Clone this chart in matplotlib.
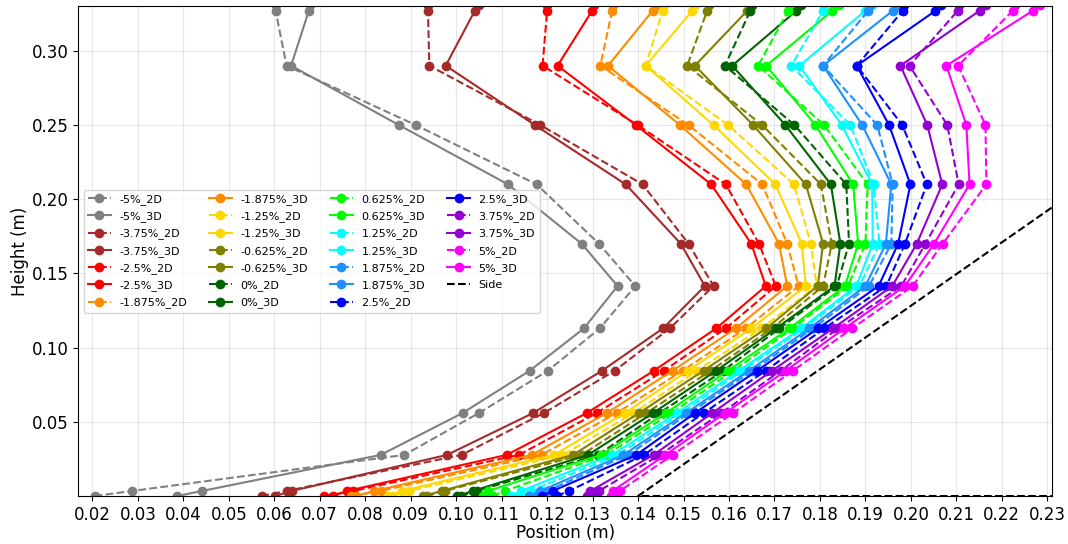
import numpy as np
import matplotlib
matplotlib.use("Agg")
import matplotlib.pyplot as plt

# ────────────────────────────────────────────────────────────────
# Profile data — position (m) at each height (m), 2D vs 3D runs
# ────────────────────────────────────────────────────────────────
heights = [0.0, 0.0034, 0.0277, 0.0559, 0.0845, 0.113, 0.1415,
           0.17, 0.21, 0.25, 0.29, 0.327, 0.331]

m5_2d    = [0.0205, 0.0287, 0.0886, 0.1050, 0.1202, 0.1316, 0.1394, 0.1314, 0.1177, 0.0911, 0.0627, 0.0603, 0.0603]
m5_3d    = [0.0387, 0.0441, 0.0834, 0.1014, 0.1162, 0.1281, 0.1355, 0.1276, 0.1114, 0.0874, 0.0637, 0.0676, 0.0678]
m375_2d  = [0.0572, 0.0627, 0.1012, 0.1193, 0.1349, 0.1470, 0.1566, 0.1511, 0.1410, 0.1185, 0.0941, 0.0938, 0.0938]
m375_3d  = [0.0602, 0.0638, 0.0980, 0.1169, 0.1321, 0.1455, 0.1547, 0.1494, 0.1373, 0.1173, 0.0977, 0.1041, 0.1050]
m25_2d   = [0.0710, 0.0774, 0.1138, 0.1309, 0.1457, 0.1593, 0.1703, 0.1666, 0.1593, 0.1399, 0.1190, 0.1200, 0.1200]
m25_3d   = [0.0730, 0.0760, 0.1111, 0.1287, 0.1435, 0.1572, 0.1681, 0.1649, 0.1561, 0.1395, 0.1223, 0.1299, 0.1304]
m1875_2d = [0.0768, 0.0834, 0.1188, 0.1353, 0.1498, 0.1637, 0.1753, 0.1728, 0.1673, 0.1511, 0.1317, 0.1343, 0.1345]
m1875_3d = [0.0780, 0.0820, 0.1166, 0.1331, 0.1476, 0.1615, 0.1728, 0.1710, 0.1638, 0.1492, 0.1334, 0.1432, 0.1442]
m125_2d  = [0.0860, 0.0897, 0.1235, 0.1390, 0.1530, 0.1671, 0.1793, 0.1780, 0.1743, 0.1598, 0.1417, 0.1454, 0.1456]
m125_3d  = [0.0851, 0.0880, 0.1215, 0.1371, 0.1510, 0.1649, 0.1769, 0.1760, 0.1702, 0.1566, 0.1417, 0.1519, 0.1525]
m0625_2d = [0.0935, 0.0975, 0.1276, 0.1418, 0.1560, 0.1695, 0.1807, 0.1826, 0.1802, 0.1673, 0.1508, 0.1552, 0.1555]
m0625_3d = [0.0928, 0.0968, 0.1257, 0.1402, 0.1544, 0.1682, 0.1795, 0.1807, 0.1769, 0.1653, 0.1525, 0.1640, 0.1650]
z0_2d    = [0.1010, 0.1045, 0.1312, 0.1447, 0.1588, 0.1711, 0.1837, 0.1864, 0.1858, 0.1744, 0.1591, 0.1647, 0.1650]
z0_3d    = [0.1001, 0.1037, 0.1290, 0.1433, 0.1572, 0.1704, 0.1832, 0.1845, 0.1824, 0.1724, 0.1607, 0.1748, 0.1759]
p0625_2d = [0.1080, 0.1107, 0.1330, 0.1473, 0.1610, 0.1740, 0.1862, 0.1900, 0.1905, 0.1809, 0.1664, 0.1730, 0.1733]
p0625_3d = [0.1060, 0.1070, 0.1318, 0.1461, 0.1598, 0.1733, 0.1855, 0.1884, 0.1873, 0.1790, 0.1682, 0.1827, 0.1843]
p125_2d  = [0.1135, 0.1164, 0.1355, 0.1495, 0.1630, 0.1765, 0.1887, 0.1931, 0.1918, 0.1867, 0.1737, 0.1807, 0.1810]
p125_3d  = [0.1120, 0.1142, 0.1343, 0.1486, 0.1622, 0.1759, 0.1880, 0.1916, 0.1915, 0.1848, 0.1755, 0.1900, 0.1915]
p1875_2d = [0.1175, 0.1200, 0.1378, 0.1513, 0.1652, 0.1785, 0.1908, 0.1957, 0.1960, 0.1926, 0.1807, 0.1906, 0.1910]
p1875_3d = [0.1160, 0.1185, 0.1368, 0.1505, 0.1644, 0.1777, 0.1900, 0.1945, 0.1957, 0.1893, 0.1807, 0.1960, 0.1972]
p25_2d   = [0.1221, 0.1248, 0.1413, 0.1544, 0.1681, 0.1810, 0.1946, 0.1987, 0.2035, 0.1981, 0.1881, 0.1982, 0.1985]
p25_3d   = [0.1188, 0.1212, 0.1396, 0.1525, 0.1662, 0.1796, 0.1929, 0.1972, 0.1999, 0.1952, 0.1881, 0.2054, 0.2067]
p375_2d  = [0.1300, 0.1314, 0.1448, 0.1583, 0.1714, 0.1840, 0.1979, 0.2032, 0.2105, 0.2080, 0.1997, 0.2103, 0.2106]
p375_3d  = [0.1288, 0.1295, 0.1434, 0.1563, 0.1695, 0.1829, 0.1959, 0.2013, 0.2069, 0.2036, 0.1977, 0.2151, 0.2166]
p5_2d    = [0.1350, 0.1360, 0.1476, 0.1609, 0.1741, 0.1871, 0.2004, 0.2070, 0.2166, 0.2164, 0.2104, 0.2224, 0.2228]
p5_3d    = [0.1340, 0.1344, 0.1460, 0.1591, 0.1725, 0.1854, 0.1987, 0.2051, 0.2129, 0.2122, 0.2078, 0.2268, 0.2283]

# side wall outline (wedge from the toe)
side_x = [0.25, 0.14, 0.25]
side_y = [0.0, 0.0, 0.235]

cases  = ["-5%", "-3.75%", "-2.5%", "-1.875%", "-1.25%", "-0.625%", "0%",
          "0.625%", "1.25%", "1.875%", "2.5%", "3.75%", "5%"]
colors = ["gray", "brown", "red", "darkorange", "gold", "olive", "darkgreen",
          "lime", "cyan", "dodgerblue", "blue", "darkviolet", "magenta"]
runs_2d = [m5_2d, m375_2d, m25_2d, m1875_2d, m125_2d, m0625_2d, z0_2d,
           p0625_2d, p125_2d, p1875_2d, p25_2d, p375_2d, p5_2d]
runs_3d = [m5_3d, m375_3d, m25_3d, m1875_3d, m125_3d, m0625_3d, z0_3d,
           p0625_3d, p125_3d, p1875_3d, p25_3d, p375_3d, p5_3d]

# ────────────────────────────────────────────────────────────────
# Plot
# ────────────────────────────────────────────────────────────────
fig = plt.figure(figsize=(10.68, 5.44), dpi=100)
ax = fig.add_axes([0.0733, 0.0882, 0.912, 0.9002])

for case, col, x2, x3 in zip(cases, colors, runs_2d, runs_3d):
    ax.plot(x2, heights, "--o", color=col, lw=1.5, ms=6, label=f"{case}_2D")
    ax.plot(x3, heights, "-o", color=col, lw=1.5, ms=6, label=f"{case}_3D")

ax.plot(side_x, side_y, "k--", lw=1.5, label="Side")

ax.set_xlim(0.0169, 0.2311)
ax.set_ylim(0.0, 0.33)
ax.set_xticks(np.arange(0.02, 0.2305, 0.01))
ax.set_yticks([0.05, 0.10, 0.15, 0.20, 0.25, 0.30])
ax.tick_params(labelsize=12)
ax.set_xlabel("Position (m)", fontsize=12, labelpad=0)
ax.set_ylabel("Height (m)", fontsize=12, labelpad=2)
ax.grid(alpha=0.3)
ax.legend(loc="center left", ncol=4, fontsize=8, labelspacing=0.57)

plt.savefig("out.png", dpi=100)
